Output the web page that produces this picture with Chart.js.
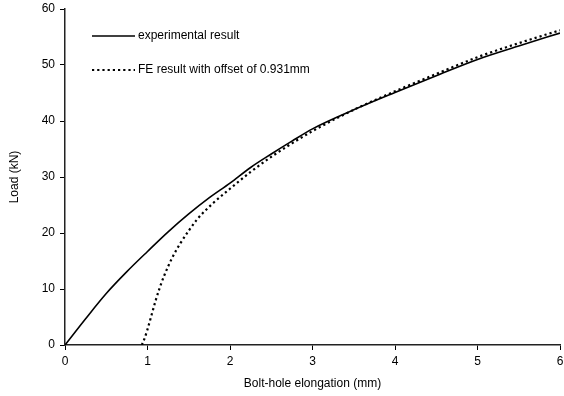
<!DOCTYPE html>
<html>
<head>
<meta charset="utf-8">
<script src="https://cdn.jsdelivr.net/npm/chart.js@4/dist/chart.umd.min.js"></script>
<style>
  html, body { margin: 0; padding: 0; background: #fff; }
  #wrap { width: 564px; height: 396px; }
</style>
</head>
<body>
<div id="wrap"><canvas id="loadChart" width="564" height="396"></canvas></div>
<script>
// measured load vs elongation
const expX = [0, 0.25, 0.5, 0.75, 1.0, 1.25, 1.5, 1.75, 2.0, 2.25, 2.5, 2.75, 3.0, 3.5, 4.0, 4.5, 5.0, 5.5, 6.0];
const expY = [0, 4.7, 9.2, 13.1, 16.7, 20.2, 23.4, 26.3, 28.9, 31.7, 34.1, 36.4, 38.6, 42.0, 45.1, 48.1, 51.0, 53.4, 55.7];

// FE prediction, shifted by the 0.931 mm offset
const feX = [0.931, 0.96, 1.0, 1.05, 1.1, 1.15, 1.2, 1.3, 1.4, 1.5, 1.6, 1.8, 2.0, 2.25, 2.5, 2.75, 3.0, 3.5, 4.0, 4.5, 5.0, 5.5, 6.0];
const feY = [0, 1.0, 2.8, 5.4, 8.0, 10.3, 12.3, 15.6, 18.2, 20.4, 22.4, 25.4, 27.9, 30.9, 33.6, 36.0, 38.2, 42.0, 45.3, 48.4, 51.4, 53.9, 56.2];

const seriesLabels = ['experimental result', 'FE result with offset of 0.931mm'];

const toPoints = (xs, ys) => xs.map((x, i) => ({ x: x, y: ys[i] }));

const FONT = { family: 'Arial, "Liberation Sans", sans-serif', size: 12 };

// legend drawn inside the plot, top-left
const innerLegend = {
  id: 'innerLegend',
  afterDraw(chart) {
    const ctx = chart.ctx;
    const rows = [36, 70];
    ctx.save();
    chart.data.datasets.forEach((ds, i) => {
      const y = rows[i];
      ctx.beginPath();
      ctx.strokeStyle = ds.borderColor;
      ctx.lineWidth = ds.borderWidth;
      ctx.setLineDash(ds.borderDash || []);
      ctx.moveTo(92, y);
      ctx.lineTo(135, y);
      ctx.stroke();
      ctx.setLineDash([]);
      ctx.fillStyle = '#000';
      ctx.font = FONT.size + 'px ' + FONT.family;
      ctx.textBaseline = 'middle';
      ctx.textAlign = 'left';
      ctx.fillText(seriesLabels[i], 138, y);
    });
    ctx.restore();
  }
};

new Chart(document.getElementById('loadChart'), {
  type: 'line',
  data: {
    datasets: [
      {
        label: seriesLabels[0],
        data: toPoints(expX, expY),
        borderColor: '#000',
        borderWidth: 1.6,
        pointRadius: 0,
        cubicInterpolationMode: 'monotone'
      },
      {
        label: seriesLabels[1],
        data: toPoints(feX, feY),
        borderColor: '#000',
        borderWidth: 2.2,
        borderDash: [2.2, 3],
        pointRadius: 0,
        cubicInterpolationMode: 'monotone'
      }
    ]
  },
  options: {
    responsive: false,
    animation: false,
    layout: { padding: { top: 9, right: 4, left: 2, bottom: 0 } },
    plugins: {
      legend: { display: false },
      tooltip: { enabled: false }
    },
    scales: {
      x: {
        type: 'linear',
        min: 0,
        max: 6,
        // keep edge tick labels from shrinking the plot area
        afterFit: (s) => { s.height = 51; s.paddingLeft = 0; s.paddingRight = 0; },
        ticks: { stepSize: 1, color: '#000', font: FONT, padding: 4 },
        grid: { drawOnChartArea: false, drawTicks: true, tickLength: 5, color: '#000' },
        border: { color: '#222', width: 1.5 },
        title: { display: true, text: 'Bolt-hole elongation (mm)', color: '#000', font: FONT, padding: { top: 6, bottom: 5 } }
      },
      y: {
        min: 0,
        max: 60,
        afterFit: (s) => { s.width = 63; s.paddingTop = 0; s.paddingBottom = 0; },
        ticks: { stepSize: 10, color: '#000', font: FONT, padding: 5 },
        grid: { drawOnChartArea: false, drawTicks: true, tickLength: 5, color: '#000' },
        border: { color: '#222', width: 1.5 },
        title: { display: true, text: 'Load (kN)', color: '#000', font: FONT, padding: { top: 5, bottom: 4 } }
      }
    }
  },
  plugins: [innerLegend]
});
</script>
</body>
</html>
